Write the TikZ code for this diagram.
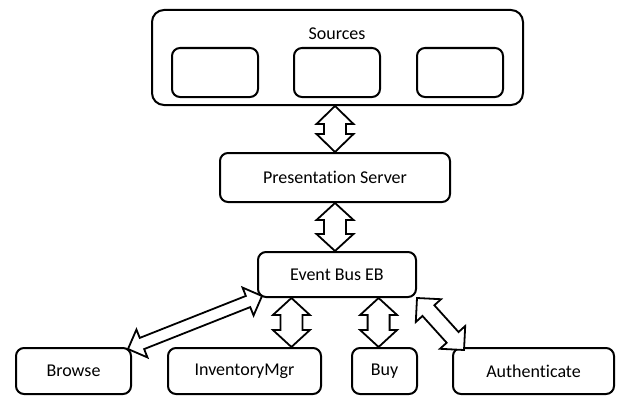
\documentclass[tikz,border=0pt]{standalone}
\usepackage{fontspec}
\setmainfont[Ligatures=NoCommon]{Carlito}
\usetikzlibrary{positioning,calc}

\tikzset{
  box/.style={draw, line width=2pt, rounded corners=8pt, inner sep=0pt,
    font=\fontsize{18}{22}\selectfont},
  srcbox/.style={box, rounded corners=12pt},
  blockarrow/.style={draw, line width=1.8pt, line join=miter, fill=white},
}

% double block arrow between two points:
% #1 from, #2 to, #3 half shaft, #4 half head, #5 head length
\newcommand\busarrow[5]{%
  \draw[blockarrow] (#1)
    -- ($(#1)!#5!(#2)!#4!90:(#2)$) -- ($(#1)!#5!(#2)!#3!90:(#2)$)
    -- ($(#2)!#5!(#1)!#3!-90:(#1)$) -- ($(#2)!#5!(#1)!#4!-90:(#1)$)
    -- (#2)
    -- ($(#2)!#5!(#1)!#4!90:(#1)$) -- ($(#2)!#5!(#1)!#3!90:(#1)$)
    -- ($(#1)!#5!(#2)!#3!-90:(#2)$) -- ($(#1)!#5!(#2)!#4!-90:(#2)$)
    -- cycle;}

\begin{document}
\begin{tikzpicture}[x=1pt, y=-1pt]
\useasboundingbox (0,0) rectangle (617,396);

% sources
\node[srcbox, minimum width=371pt, minimum height=95pt] (src) at (337.5,57.5) {};
\node[font=\fontsize{18}{22}\selectfont] (srctitle) at (337,34) {Sources};
\node[box, minimum width=86pt, minimum height=49pt] (s1) at (215,72.5) {};
\node[box, minimum width=86pt, minimum height=49pt] (s2) at (337,72.5) {};
\node[box, minimum width=86pt, minimum height=49pt] (s3) at (460,72.5) {};

% servers
\node[box, minimum width=230pt, minimum height=49pt] (ps) at (335,177.5) {Presentation Server};
\node[box, minimum width=158pt, minimum height=45pt] (eb) at (337,274.5) {Event Bus EB};

% services
\node[box, minimum width=115pt, minimum height=46pt] (browse) at (73.5,371) {Browse};
\node[box, minimum width=153pt, minimum height=46pt] (inv) at (244.5,371) {InventoryMgr};
\node[box, minimum width=65pt, minimum height=46pt] (buy) at (384.5,371) {Buy};
\node[box, minimum width=161pt, minimum height=46pt] (auth) at (533.5,371) {Authenticate};

% connect nodes
\coordinate (srcdown) at (ps.north |- src.south);
\coordinate (ebup) at (ps.south |- eb.north);
\coordinate (ebinv) at ($(eb.south west)!0.215!(eb.south east)$);
\coordinate (ebbuy) at ($(eb.south west)!0.76!(eb.south east)$);
\coordinate (browsetip) at ($(browse.north east)+(-4,2)$);
\coordinate (ebtip) at ($(eb.south west)+(5,-2)$);
\coordinate (authtip) at ($(auth.north west)+(12,3)$);

\busarrow{srcdown}{ps.north}{11pt}{18.5pt}{18pt}
\busarrow{ps.south}{ebup}{11pt}{18.5pt}{17pt}
\busarrow{ebinv}{ebinv |- inv.north}{11pt}{18.5pt}{17pt}
\busarrow{ebbuy}{ebbuy |- buy.north}{11pt}{18.5pt}{17pt}
\busarrow{browsetip}{ebtip}{6pt}{15pt}{15pt}
\busarrow{eb.south east}{authtip}{8pt}{17pt}{17pt}
\end{tikzpicture}
\end{document}
